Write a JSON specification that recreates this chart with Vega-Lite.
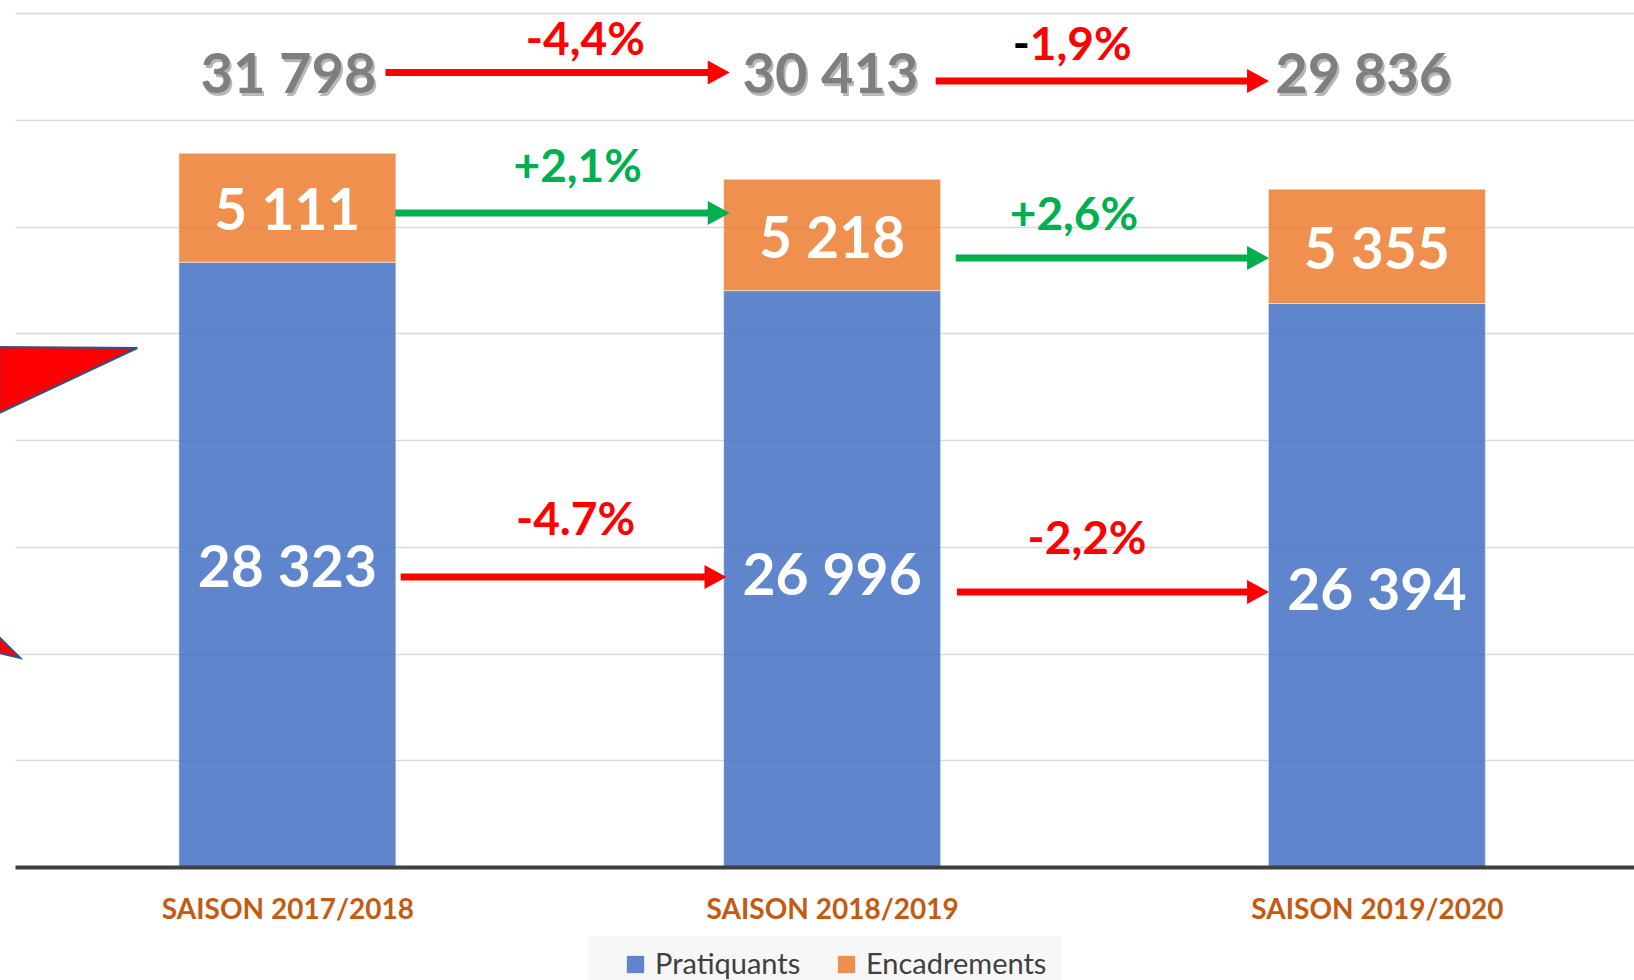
{
  "$schema": "https://vega.github.io/schema/vega-lite/v6.json",
  "autosize": {"type": "none"},
  "width": 1619,
  "height": 854,
  "padding": {"left": 15, "top": 13, "right": 0, "bottom": 113},
  "background": "#ffffff",
  "config": {"view": {"stroke": null}, "font": "Lato"},
  "datasets": {
    "effectifs": [
      {"annee": 2017, "serie": "Pratiquants", "niveau": 28323},
      {"annee": 2017, "serie": "Encadrements", "niveau": 5111},
      {"annee": 2018, "serie": "Pratiquants", "niveau": 26996},
      {"annee": 2018, "serie": "Encadrements", "niveau": 5218},
      {"annee": 2019, "serie": "Pratiquants", "niveau": 26394},
      {"annee": 2019, "serie": "Encadrements", "niveau": 5355}
    ],
    "totaux": [
      {"annee": 2017.002, "libelle": "31 798", "niveau": 36253},
      {"annee": 2017.997, "libelle": "30 413", "niveau": 36253},
      {"annee": 2018.975, "libelle": "29 836", "niveau": 36253}
    ],
    "valeurs": [
      {"annee": 2017, "libelle": "5 111", "niveau": 29836},
      {"annee": 2018, "libelle": "5 218", "niveau": 28524},
      {"annee": 2019, "libelle": "5 355", "niveau": 28009},
      {"annee": 2017, "libelle": "28 323", "niveau": 13115},
      {"annee": 2018, "libelle": "26 996", "niveau": 12740},
      {"annee": 2019, "libelle": "26 394", "niveau": 12037}
    ],
    "variations": [
      {"annee": 2017.547, "libelle": "-4,4%", "sens": "baisse", "niveau": 38032},
      {"annee": 2017.533, "libelle": "+2,1%", "sens": "hausse", "niveau": 32084},
      {"annee": 2018.444, "libelle": "+2,6%", "sens": "hausse", "niveau": 29836},
      {"annee": 2017.529, "libelle": "-4.7%", "sens": "baisse", "niveau": 15550},
      {"annee": 2018.468, "libelle": "-2,2%", "sens": "baisse", "niveau": 14660}
    ],
    "variation_gauche": [
      {"annee": 2018.363, "libelle": "1,9%", "sens": "baisse", "niveau": 37798}
    ],
    "variation_droite": [
      {"annee": 2018.363, "libelle": "-", "sens": "neutre", "niveau": 37798}
    ],
    "fleches": [
      {"annee": 2017.180, "fin": 2017.812, "niveau": 37213, "sens": "baisse"},
      {"annee": 2018.190, "fin": 2018.802, "niveau": 36815, "sens": "baisse"},
      {"annee": 2017.198, "fin": 2017.812, "niveau": 30632, "sens": "hausse"},
      {"annee": 2018.227, "fin": 2018.802, "niveau": 28524, "sens": "hausse"},
      {"annee": 2017.208, "fin": 2017.806, "niveau": 13583, "sens": "baisse"},
      {"annee": 2018.229, "fin": 2018.802, "niveau": 12880, "sens": "baisse"}
    ],
    "pointes": [
      {"annee": 2017.812, "niveau": 37213, "sens": "baisse"},
      {"annee": 2018.802, "niveau": 36815, "sens": "baisse"},
      {"annee": 2017.812, "niveau": 30632, "sens": "hausse"},
      {"annee": 2018.802, "niveau": 28524, "sens": "hausse"},
      {"annee": 2017.806, "niveau": 13583, "sens": "baisse"},
      {"annee": 2018.802, "niveau": 12880, "sens": "baisse"}
    ],
    "forme_haut": [
      {"annee": 2016.471, "niveau": 24356, "niveau2": 21264},
      {"annee": 2016.7245, "niveau": 24309, "niveau2": 24309}
    ],
    "forme_bas": [
      {"annee": 2016.471, "niveau": 10773, "niveau2": 10023},
      {"annee": 2016.5096, "niveau": 9789, "niveau2": 9789}
    ]
  },
  "encoding": {
    "x": {
      "field": "annee", "type": "quantitative",
      "scale": {"domain": [2016.5, 2019.472], "nice": false, "zero": false, "padding": 0},
      "axis": {
        "values": [2017, 2018, 2019],
        "labelExpr": "'SAISON ' + datum.value + '/' + (datum.value + 1)",
        "labelFont": "Lato", "labelFontWeight": "bold", "labelFontSize": 28,
        "labelColor": "#C55A11", "ticks": false, "grid": false, "labelLimit": 0,
        "domainColor": "#404040", "domainWidth": 4, "labelPadding": 29,
        "title": null, "labelFlush": false, "labelOverlap": false, "zindex": 1
      }
    },
    "y": {
      "field": "niveau", "type": "quantitative",
      "scale": {"domain": [0, 40000], "nice": false, "zero": true},
      "axis": {
        "values": [5000, 10000, 15000, 20000, 25000, 30000, 35000, 40000],
        "grid": true, "gridColor": "#D9D9D9", "gridWidth": 1.5,
        "domain": false, "ticks": false, "labels": false, "title": null
      }
    }
  },
  "layer": [
    {
      "data": {"name": "effectifs"},
      "mark": {"type": "bar", "width": 217, "opacity": 0.85, "stroke": "#ffffff", "strokeWidth": 1, "strokeOpacity": 0.5},
      "encoding": {
        "color": {
          "field": "serie", "type": "nominal",
          "scale": {"domain": ["Pratiquants", "Encadrements"], "range": ["#4472C4", "#ED7D31"]},
          "legend": {
            "orient": "none", "direction": "horizontal", "legendX": 573, "legendY": 923,
            "title": null, "fillColor": "#F7F7F7", "padding": 14, "gridAlign": "none",
            "symbolType": "square", "symbolSize": 300, "symbolStrokeWidth": 0, "symbolOffset": 19,
            "labelFont": "Lato", "labelFontSize": 29, "labelColor": "#404040",
            "labelOffset": 5, "columnPadding": 12, "labelLimit": 400
          }
        },
        "order": {"field": "serie", "sort": "descending"}
      }
    },
    {
      "data": {"name": "forme_haut"},
      "mark": {"type": "area", "fill": "#FF0000", "stroke": "#2F528F", "strokeWidth": 2, "clip": false},
      "encoding": {"y2": {"field": "niveau2"}}
    },
    {
      "data": {"name": "forme_bas"},
      "mark": {"type": "area", "fill": "#FF0000", "stroke": "#2F528F", "strokeWidth": 2, "clip": false},
      "encoding": {"y2": {"field": "niveau2"}}
    },
    {
      "data": {"name": "fleches"},
      "mark": {"type": "rule", "strokeWidth": 7, "strokeCap": "butt", "x2Offset": -18},
      "encoding": {
        "x2": {"field": "fin"},
        "stroke": {"field": "sens", "type": "nominal", "scale": {"domain": ["baisse", "hausse", "neutre"], "range": ["#FF0000", "#00B050", "#000000"]}, "legend": null}
      }
    },
    {
      "data": {"name": "pointes"},
      "mark": {"type": "point", "shape": "M-1.83,-1L0,0L-1.83,1Z", "size": 576, "filled": true, "opacity": 1},
      "encoding": {
        "fill": {"field": "sens", "type": "nominal", "scale": {"domain": ["baisse", "hausse", "neutre"], "range": ["#FF0000", "#00B050", "#000000"]}, "legend": null}
      }
    },
    {
      "data": {"name": "totaux"},
      "mark": {"type": "text", "font": "Lato", "fontWeight": "bold", "fontSize": 56, "align": "center", "baseline": "alphabetic", "color": "#000000", "opacity": 0.28, "dx": 2, "dy": 3},
      "encoding": {"text": {"field": "libelle"}}
    },
    {
      "data": {"name": "totaux"},
      "mark": {"type": "text", "font": "Lato", "fontWeight": "bold", "fontSize": 56, "align": "center", "baseline": "alphabetic", "color": "#7F7F7F"},
      "encoding": {"text": {"field": "libelle"}}
    },
    {
      "data": {"name": "valeurs"},
      "mark": {"type": "text", "font": "Lato", "fontWeight": "bold", "fontSize": 57, "align": "center", "baseline": "alphabetic", "color": "#FFFFFF"},
      "encoding": {"text": {"field": "libelle"}}
    },
    {
      "data": {"name": "variations"},
      "mark": {"type": "text", "font": "Lato", "fontWeight": "bold", "fontSize": 46, "align": "center", "baseline": "alphabetic"},
      "encoding": {
        "text": {"field": "libelle"},
        "fill": {"field": "sens", "type": "nominal", "scale": {"domain": ["baisse", "hausse", "neutre"], "range": ["#FF0000", "#00B050", "#000000"]}, "legend": null}
      }
    },
    {
      "data": {"name": "variation_gauche"},
      "mark": {"type": "text", "font": "Lato", "fontWeight": "bold", "fontSize": 46, "align": "left", "baseline": "alphabetic"},
      "encoding": {
        "text": {"field": "libelle"},
        "fill": {"field": "sens", "type": "nominal", "scale": {"domain": ["baisse", "hausse", "neutre"], "range": ["#FF0000", "#00B050", "#000000"]}, "legend": null}
      }
    },
    {
      "data": {"name": "variation_droite"},
      "mark": {"type": "text", "font": "Lato", "fontWeight": "bold", "fontSize": 46, "align": "right", "baseline": "alphabetic"},
      "encoding": {
        "text": {"field": "libelle"},
        "fill": {"field": "sens", "type": "nominal", "scale": {"domain": ["baisse", "hausse", "neutre"], "range": ["#FF0000", "#00B050", "#000000"]}, "legend": null}
      }
    }
  ]
}
